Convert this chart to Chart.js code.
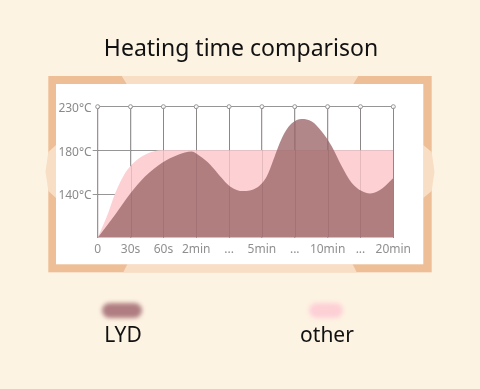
<!DOCTYPE html>
<html>
<head>
<meta charset="utf-8">
<script src="https://cdn.jsdelivr.net/npm/chart.js@4"></script>
<style>
  html, body { margin: 0; padding: 0; background: #fdf3e3; }
  #wrap { width: 480px; height: 389px; }
</style>
</head>
<body>
<div id="wrap"><canvas id="heatChart" width="480" height="389"></canvas></div>
<script>
// 1. data
const timeLabels = ['0', '30s', '60s', '2min', '...', '5min', '...', '10min', '...', '20min'];
const tempTicks = [140, 180, 230];
const tempStops = [100, 140, 180, 230]; // axis bottom + gridlines (equally spaced on the picture)

// positions are in steps of the time axis (0 = "0", 9 = "20min")
const lydPos  = [0, 0.53, 0.98, 1.44, 1.95, 2.45, 2.86, 3.12, 3.42, 3.72, 4.03, 4.43, 4.84, 5.15, 5.35, 5.50, 5.70, 5.91, 6.21, 6.52, 6.82, 7.13, 7.43, 7.73, 8.04, 8.29, 8.54, 8.80, 9];
const lydTemp = [100, 121, 140, 156, 168.5, 176, 179, 174.5, 167, 156.5, 147, 142.7, 145.8, 156.4, 171.5, 184.5, 200.7, 211, 216, 213, 201.6, 184.5, 165.5, 150.4, 142.7, 140.6, 142.7, 148.8, 154.7];

const otherPos  = [0, 0.32, 0.53, 0.78, 1.04, 1.44, 1.95, 9];
const otherTemp = [100, 122.7, 140.4, 156.4, 167, 176, 180, 180];

// 2. temperature -> axis level (the picture spaces 140/180/230 evenly)
function toLevel(t) {
    for (let i = 1; i < tempStops.length; i++) {
        if (t <= tempStops[i]) {
            return (i - 1) + (t - tempStops[i - 1]) / (tempStops[i] - tempStops[i - 1]);
        }
    }
    return tempStops.length - 1;
}

const toPoints = (xs, ys) => xs.map((x, i) => ({ x: x, y: toLevel(ys[i]) }));

const gridGray = '#969696';

// 3. decoration: background, frame, title, legend
const decoPlugin = {
    id: 'deco',
    beforeDraw(chart) {
        const ctx = chart.ctx;
        ctx.save();
        ctx.fillStyle = '#fdf3e3';
        ctx.fillRect(0, 0, 480, 389);

        // frame
        ctx.fillStyle = '#eebe96';
        ctx.fillRect(48.3, 76, 383.4, 196.3);
        ctx.fillStyle = '#f8dec4';
        const polys = [
            [[121.7, 76], [358.3, 76], [353.3, 84], [126.7, 84]],
            [[123.3, 272.3], [356.7, 272.3], [352.7, 264.3], [127.3, 264.3]],
            [[56, 145], [56, 198], [48.3, 191], [45.5, 171.5], [48.3, 152]],
            [[423.3, 145], [423.3, 198], [431.7, 191], [434.5, 171.5], [431.7, 152]]
        ];
        polys.forEach(p => {
            ctx.beginPath();
            ctx.moveTo(p[0][0], p[0][1]);
            p.slice(1).forEach(q => ctx.lineTo(q[0], q[1]));
            ctx.closePath();
            ctx.fill();
        });
        ctx.fillStyle = '#ffffff';
        ctx.fillRect(56, 84, 367.3, 180.3);

        // title
        ctx.fillStyle = '#111111';
        ctx.font = '23px "Noto Sans"';
        ctx.textAlign = 'center';
        ctx.textBaseline = 'alphabetic';
        ctx.fillText('Heating time comparison', 241, 56);

        // legend blobs + labels
        const items = [
            { label: 'LYD', color: '#b07e82', x: 122, w: 40 },
            { label: 'other', color: '#fdd0d6', x: 326, w: 34 }
        ];
        items.forEach(it => {
            ctx.save();
            ctx.filter = 'blur(2px)';
            ctx.fillStyle = it.color;
            ctx.beginPath();
            ctx.roundRect(it.x - it.w / 2, 303, it.w, 15, 7.5);
            ctx.fill();
            ctx.restore();
            ctx.fillStyle = '#111111';
            ctx.font = '21px "Noto Sans"';
            ctx.textAlign = 'center';
            ctx.fillText(it.label, it.x + 1, 342);
        });
        ctx.restore();
    },
    afterDatasetsDraw(chart) {
        // faint vertical gridlines seen through the filled areas
        const ctx = chart.ctx;
        const xs = chart.scales.x;
        const area = chart.chartArea;
        ctx.save();
        ctx.strokeStyle = 'rgba(70, 40, 40, 0.13)';
        ctx.lineWidth = 1;
        timeLabels.forEach((_, i) => {
            const px = Math.round(xs.getPixelForValue(i)) + 0.5;
            ctx.beginPath();
            ctx.moveTo(px, area.top);
            ctx.lineTo(px, area.bottom);
            ctx.stroke();
        });
        ctx.restore();
    }
};

// 4. chart
const ctx = document.getElementById('heatChart').getContext('2d');
new Chart(ctx, {
    type: 'line',
    data: {
        datasets: [
            {
                label: 'markers',
                data: timeLabels.map((_, i) => ({ x: i, y: toLevel(tempTicks[2]) })),
                showLine: false,
                pointRadius: 2,
                pointBackgroundColor: '#ffffff',
                pointBorderColor: gridGray,
                pointBorderWidth: 1,
                clip: false,
                order: 0
            },
            {
                label: 'LYD',
                data: toPoints(lydPos, lydTemp),
                fill: 'origin',
                backgroundColor: 'rgba(157, 105, 107, 0.8)',
                borderWidth: 0,
                pointRadius: 0,
                cubicInterpolationMode: 'monotone',
                order: 1
            },
            {
                label: 'other',
                data: toPoints(otherPos, otherTemp),
                fill: 'origin',
                backgroundColor: '#fdd0d3',
                borderWidth: 0,
                pointRadius: 0,
                cubicInterpolationMode: 'monotone',
                order: 2
            }
        ]
    },
    options: {
        responsive: false,
        animation: false,
        layout: { padding: { left: 57.7, right: 86.7, top: 106.7, bottom: 131.3 } },
        plugins: {
            legend: { display: false },
            tooltip: { enabled: false }
        },
        scales: {
            x: {
                type: 'linear',
                min: 0,
                max: timeLabels.length - 1,
                afterBuildTicks: s => { s.ticks = timeLabels.map((_, i) => ({ value: i })); },
                afterFit: s => { s.height = 20; },
                border: { display: false },
                grid: { color: gridGray, drawTicks: false },
                ticks: {
                    padding: 5,
                    color: '#8f8f8f',
                    font: { family: 'Noto Sans', size: 12 },
                    maxRotation: 0,
                    autoSkip: false,
                    callback: (v, i) => timeLabels[i]
                }
            },
            y: {
                min: 0,
                max: tempStops.length - 1,
                afterBuildTicks: s => { s.ticks = tempTicks.map(t => ({ value: toLevel(t) })); },
                afterFit: s => { s.width = 40; },
                border: { display: false },
                grid: {
                    color: gridGray,
                    tickLength: 5,
                    tickColor: c => (c.index === tempTicks.length - 1 ? 'rgba(0,0,0,0)' : gridGray)
                },
                ticks: {
                    padding: 1,
                    labelOffset: 2,
                    color: '#8a8a8a',
                    font: { family: 'Noto Sans', size: 12 },
                    callback: (v, i) => tempTicks[i] + '°C'
                }
            }
        }
    },
    plugins: [decoPlugin]
});
</script>
</body>
</html>
